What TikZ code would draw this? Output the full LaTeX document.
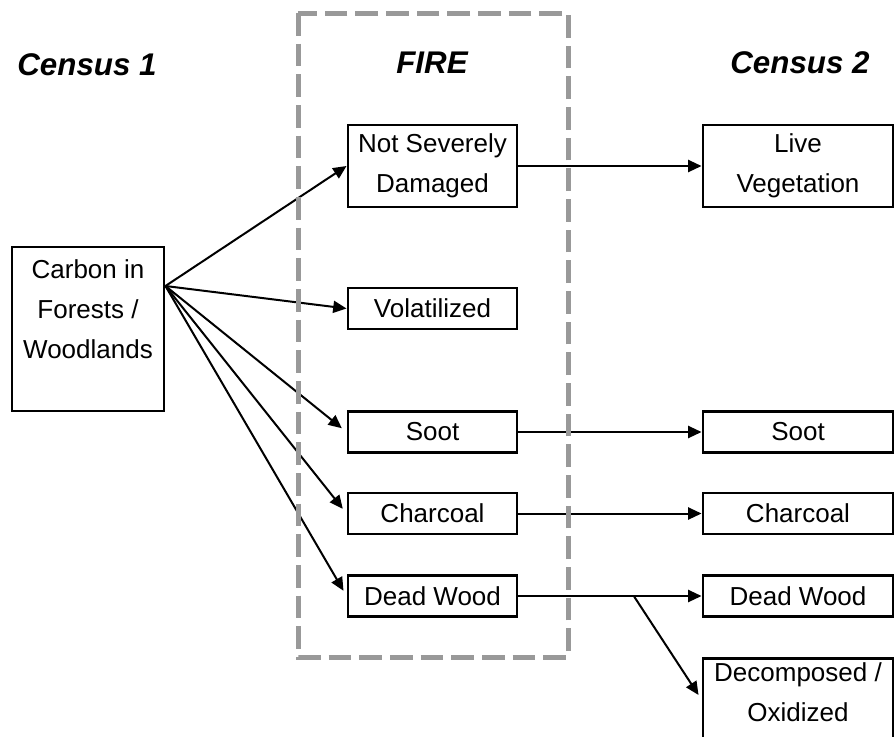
\documentclass[tikz,border=0pt]{standalone}
\usepackage{fontspec}
\setmainfont{Liberation Sans}
\usetikzlibrary{arrows.meta, calc}
\definecolor{zonegray}{RGB}{153,153,153}

\begin{document}
\begin{tikzpicture}[x=0.75pt,y=0.75pt,yscale=-1,xscale=1,
  box/.style={draw, line width=2.2pt, fill=white, align=center, inner sep=3pt, font=\fontsize{19.5}{30}\selectfont},
  firebox/.style={box, minimum width=126.75pt, minimum height=30.75pt},
  censusbox/.style={box, minimum width=142.5pt, minimum height=30.75pt},
  arr/.style={line width=1.5pt, -{Triangle[length=10pt,width=9pt]}},
  heading/.style={font=\fontsize{23.5}{28}\selectfont\bfseries\itshape, anchor=base},
  zone/.style={draw=zonegray, line width=3.75pt, dash pattern=on 17pt off 6pt}]
%set diagram left start at 0, and has height of 736
\useasboundingbox (0,0) rectangle (895,736);
\clip (0,0) rectangle (895,736);

% Text Node
\node[heading] (census1) at (87,75) {Census 1};
% Text Node
\node[heading] (fire) at (432,73) {FIRE};
% Text Node
\node[heading] (census2) at (800,73) {Census 2};

%Shape: Rectangle
\node[box, minimum width=114pt, minimum height=123pt] (carbon) at (88,329) {Carbon in\\Forests /\\Woodlands\\~};

%Shape: Rectangle
\node[firebox, minimum height=61.5pt] (nsd) at (432.5,166) {Not Severely\\Damaged};
\node[firebox] (vol) at (432.5,308.5) {Volatilized};
\node[firebox] (soot1) at (432.5,432) {Soot};
\node[firebox] (char1) at (432.5,513.5) {Charcoal};
\node[firebox] (dead1) at (432.5,596) {Dead Wood};

%Shape: Rectangle
\node[censusbox, minimum height=61.5pt] (live) at (798,166) {Live\\Vegetation};
\node[censusbox] (soot2) at (798,432) {Soot};
\node[censusbox] (char2) at (798,513.5) {Charcoal};
\node[censusbox] (dead2) at (798,596) {Dead Wood};
\node[censusbox, anchor=north] (decomp) at (798,657) {Decomposed /\\Oxidized\\~};

%Straight Lines
\draw[arr] ($(carbon.east)+(0,-43)$) -- (nsd.west);
\draw[arr] ($(carbon.east)+(0,-43)$) -- (vol.west);
\draw[arr, shorten >=4.5pt] ($(carbon.east)+(0,-43)$) -- (soot1.west);
\draw[arr, shorten >=4.5pt] ($(carbon.east)+(0,-43)$) -- (char1.west);
\draw[arr, shorten >=4.5pt] ($(carbon.east)+(0,-43)$) -- (dead1.west);

%Straight Lines
\draw[arr] (nsd.east) -- (live.west);
\draw[arr] (soot1.east) -- (soot2.west);
\draw[arr] (char1.east) -- (char2.west);
\draw[arr] (dead1.east) -- coordinate[pos=0.63] (split) (dead2.west);
\draw[arr] (split) -- ($(decomp.north west)+(-3,38)$);

%Shape: Rectangle
\draw[zone] (298,13) rectangle (568,657);

\end{tikzpicture}
\end{document}
